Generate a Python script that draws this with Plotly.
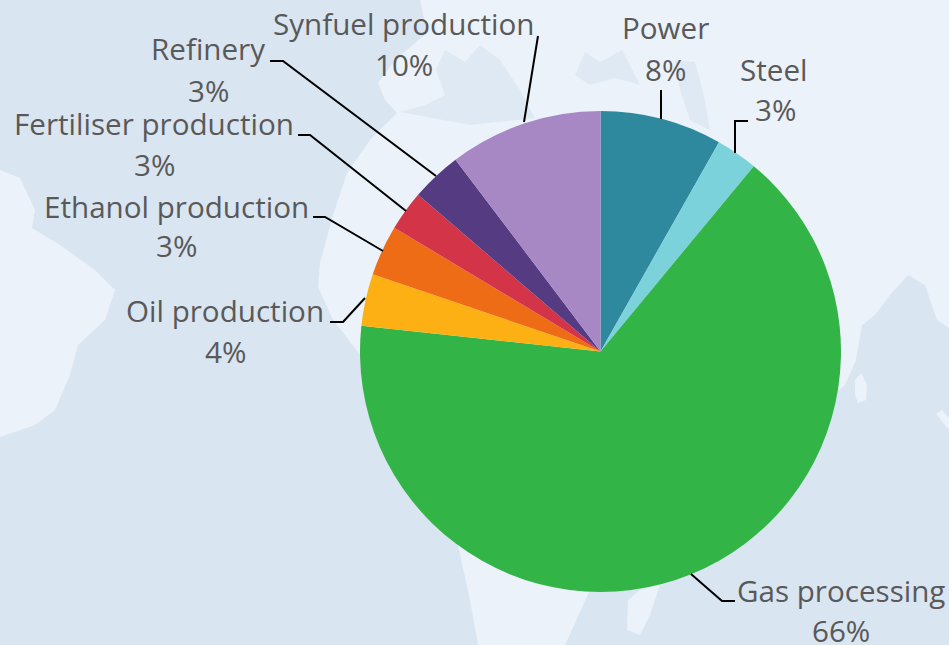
import plotly.graph_objects as go

W, H = 949, 645

categories = ["Power", "Steel", "Gas processing", "Oil production", "Ethanol production",
              "Fertiliser production", "Refinery", "Synfuel production"]
values = [8.2, 2.8, 65.7, 3.5, 3.4, 2.7, 3.4, 10.3]
colors = ["#2f899e", "#7bd2da", "#32b546", "#fdb014", "#ef6c17", "#d33447", "#553c82", "#a887c5"]

# label layout in pixels: name centre x, name centre y, percent centre x, percent centre y
label_pos = {
    "Power": (665, 28, 665, 69),
    "Steel": (773, 69, 775, 110),
    "Gas processing": (841, 590, 841, 630),
    "Oil production": (225, 310, 225, 351),
    "Ethanol production": (176, 206, 176, 246),
    "Fertiliser production": (154, 124, 154, 164),
    "Refinery": (208, 49, 208, 90),
    "Synfuel production": (404, 23, 404, 64),
}
leaders = [
    [(538, 36), (524, 122)],
    [(661, 90), (661, 119)],
    [(748, 121), (735, 121), (735, 153)],
    [(270, 61), (283, 61), (436, 176)],
    [(298, 135), (310, 135), (406, 211)],
    [(313, 217), (325, 217), (383, 251)],
    [(330, 322), (343, 322), (365, 298)],
    [(735, 601), (722, 601), (691, 574)],
]

WATER = "#d9e5f1"
LAND = "#ecf2f9"

land_polys = [
    [(420, 0), (427, 33), (395, 60), (378, 83), (385, 100), (397, 113), (370, 140), (347, 173),
     (333, 215), (320, 263), (318, 287), (333, 320), (345, 335), (360, 355), (458, 545), (470, 600),
     (478, 645), (565, 645), (590, 590), (700, 500), (845, 385), (856, 360), (862, 325), (875, 315),
     (890, 295), (908, 275), (925, 285), (937, 320), (949, 328), (949, 0)],
    [(0, 170), (20, 178), (35, 210), (32, 228), (60, 245), (95, 270), (115, 290), (105, 320),
     (78, 345), (70, 375), (55, 410), (35, 425), (0, 437)],
    [(627, 630), (628, 600), (640, 590), (660, 585), (650, 615), (640, 635)],
    [(855, 380), (861, 373), (867, 385), (866, 400), (858, 403), (855, 395)],
    [(936, 414), (942, 410), (949, 418), (949, 430)],
]
water_polys = [
    [(400, 112), (425, 105), (445, 95), (436, 70), (445, 50), (465, 62), (480, 45), (500, 60), (520, 90), (535, 118), (470, 125)],
    [(575, 75), (585, 52), (600, 62), (622, 50), (640, 85), (615, 78), (590, 85)],
    [(675, 60), (695, 62), (705, 100), (710, 130), (690, 120), (680, 90)],
]


def px(x, y):
    return x / W, 1 - y / H


def path(points, close=False):
    parts = []
    for i, (x, y) in enumerate(points):
        a, b = px(x, y)
        parts.append(("M" if i == 0 else "L") + f"{a:.5f},{b:.5f}")
    return " ".join(parts) + (" Z" if close else "")


shapes = []
for p in land_polys:
    shapes.append(dict(type="path", xref="paper", yref="paper", path=path(p, True),
                       fillcolor=LAND, line=dict(width=0), layer="below"))
for p in water_polys:
    shapes.append(dict(type="path", xref="paper", yref="paper", path=path(p, True),
                       fillcolor="#dfe9f4", line=dict(width=0), layer="below"))
for p in leaders:
    shapes.append(dict(type="path", xref="paper", yref="paper", path=path(p),
                       line=dict(color="#000000", width=2), layer="above"))

FONT = dict(family="Open Sans, Noto Sans, sans-serif", size=29.6, color="#595959")
annotations = []
for name, v in zip(categories, values):
    nx, ny, vx, vy = label_pos[name]
    for text, x, y in ((name, nx, ny), (f"{round(v)}%", vx, vy)):
        a, b = px(x, y)
        annotations.append(dict(text=text, x=a, y=b, xref="paper", yref="paper", showarrow=False,
                                xanchor="center", yanchor="middle", font=FONT))

fig = go.Figure(go.Pie(
    labels=categories, values=values, sort=False, direction="clockwise", rotation=0,
    marker=dict(colors=colors, line=dict(width=0)), textinfo="none", showlegend=False,
    domain=dict(x=[360 / W, 841 / W], y=[1 - 592 / H, 1 - 111 / H]),
))
fig.update_layout(width=W, height=H, margin=dict(l=0, r=0, t=0, b=0), paper_bgcolor=WATER,
                  shapes=shapes, annotations=annotations)
fig.write_html("out.html", config={"displayModeBar": False},
               post_script="document.body.style.margin='0';document.body.style.overflow='hidden';")
